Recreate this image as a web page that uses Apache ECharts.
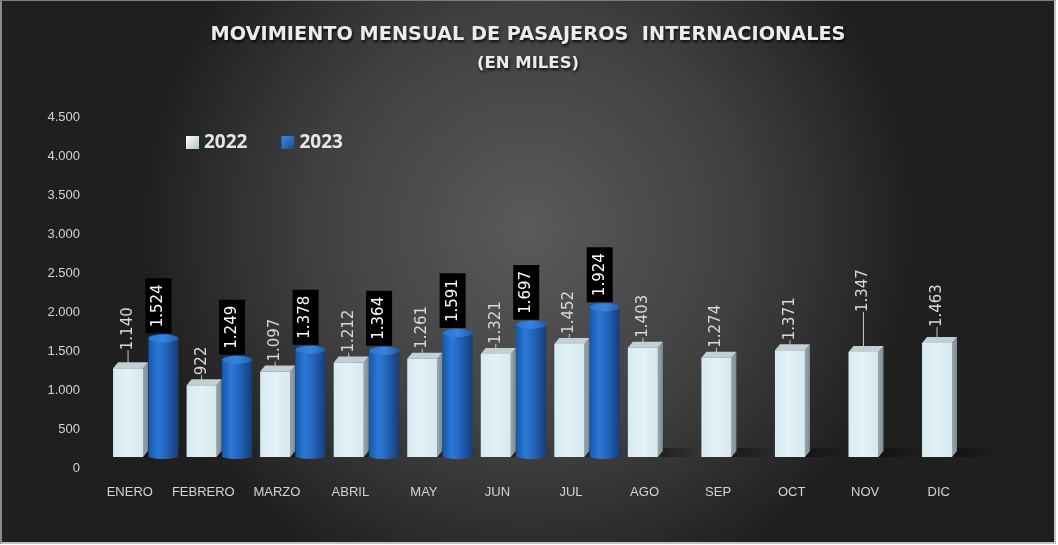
<!DOCTYPE html>
<html>
<head>
<meta charset="utf-8">
<script src="https://cdn.jsdelivr.net/npm/echarts@6/dist/echarts.min.js"></script>
<style>
  html, body { margin: 0; padding: 0; background: #ffffff; }
  #c { position: absolute; left: 0; top: 0; width: 1052px; height: 541px;
       border-top: 1px solid #7c7c7c; border-left: 2px solid #8a8a8a;
       border-right: 2px solid #c4c4c4; border-bottom: 2px solid #c4c4c4; }
</style>
</head>
<body>
<div id="c"></div>
<script>
// ---- data ----
const categories = ['ENERO','FEBRERO','MARZO','ABRIL','MAY','JUN','JUL','AGO','SEP','OCT','NOV','DIC'];
const values2022 = [1140, 922, 1097, 1212, 1261, 1321, 1452, 1403, 1274, 1371, 1347, 1463];
const values2023 = [1524, 1249, 1378, 1364, 1591, 1697, 1924, null, null, null, null, null];
const yMin = 0, yMax = 4500, yStep = 500;
const seriesNames = ['2022', '2023'];
const titleText = 'MOVIMIENTO MENSUAL DE PASAJEROS  INTERNACIONALES';
const subtitleText = '(EN MILES)';

// ---- style ----
const BAR_W = 30, BAR_GAP = 0.18;
const HALF_PAIR = (BAR_W + BAR_W * BAR_GAP) / 2;
const DEPTH_X = 5, DEPTH_Y = 6;
const labelShift = {0: 8, 10: 30, 11: 6};

function fmt(v) {
  return String(v).replace(/\B(?=(\d{3})+(?!\d))/g, '.');
}

const chart = echarts.init(document.getElementById('c'), null, {renderer: 'canvas'});

const grad2022 = new echarts.graphic.LinearGradient(0, 0, 1, 0, [
  {offset: 0, color: '#d8ebf2'}, {offset: 0.5, color: '#e2f1f6'}, {offset: 1, color: '#d5e8ef'}
]);
const grad2023 = new echarts.graphic.LinearGradient(0, 0, 1, 0, [
  {offset: 0, color: '#1a56a6'}, {offset: 0.3, color: '#2a78d6'}, {offset: 0.55, color: '#2468c2'},
  {offset: 1, color: '#143d7c'}
]);

const data2022 = values2022.map((v, i) => [i, v]);
const data2023 = values2023.map((v, i) => v == null ? [i, '-'] : [i, v]);

const titleShadow = {textShadowColor: 'rgba(0,0,0,0.85)', textShadowBlur: 3, textShadowOffsetX: 1, textShadowOffsetY: 2};

const option = {
  backgroundColor: new echarts.graphic.RadialGradient(0.5, 0.42, 0.72, [
    {offset: 0, color: '#5a5a5a'}, {offset: 0.55, color: '#404040'}, {offset: 1, color: '#1f1f1f'}
  ]),
  animation: false,
  title: [{
    text: titleText, left: 'center', top: 19,
    textStyle: Object.assign({color: '#ececec', fontFamily: 'DejaVu Sans', fontWeight: 'bold', fontSize: 19.3}, titleShadow)
  }, {
    text: subtitleText, left: 'center', top: 49,
    textStyle: Object.assign({color: '#ececec', fontFamily: 'DejaVu Sans', fontWeight: 'bold', fontSize: 16.5}, titleShadow)
  }],
  legend: {
    left: 179, top: 127, itemWidth: 13, itemHeight: 13, itemGap: 34,
    data: [
      {name: '2022', icon: 'rect', itemStyle: {color: new echarts.graphic.LinearGradient(0, 0, 1, 1, [
        {offset: 0, color: '#ffffff'}, {offset: 1, color: '#a9c4cf'}])}},
      {name: '2023', icon: 'rect', itemStyle: {color: new echarts.graphic.LinearGradient(0, 0, 1, 1, [
        {offset: 0, color: '#3c8ae6'}, {offset: 1, color: '#164a92'}])}}
    ],
    textStyle: {color: '#e6e6e6', fontFamily: 'Open Sans', fontWeight: 'bold', fontSize: 19}
  },
  grid: [
    {left: 107, right: 62.5, top: 116.5, bottom: 74},
    {left: 107, right: 62.5, top: 105.5, bottom: 85}
  ],
  xAxis: [
    {gridIndex: 0, type: 'category', data: categories, show: false},
    {gridIndex: 1, type: 'category', data: categories,
      axisLine: {show: false}, axisTick: {show: false},
      axisLabel: {color: '#d4d4d4', fontFamily: 'Liberation Sans', fontSize: 13, margin: 29,
        interval: 0, padding: [0, 32, 0, 0]}}
  ],
  yAxis: [
    {gridIndex: 0, type: 'value', min: yMin, max: yMax, interval: yStep,
      splitLine: {show: false}, axisLine: {show: false}, axisTick: {show: false},
      axisLabel: {color: '#d4d4d4', fontFamily: 'Liberation Sans', fontSize: 13, margin: 29,
        formatter: v => fmt(v)}},
    {gridIndex: 1, type: 'value', min: yMin, max: yMax, interval: yStep, show: false}
  ],
  series: [
    {
      name: seriesNames[0], type: 'bar', xAxisIndex: 1, yAxisIndex: 1, z: 3,
      barWidth: BAR_W, barGap: (BAR_GAP * 100) + '%',
      itemStyle: {color: grad2022},
      data: values2022,
      label: {show: true, position: 'top', rotate: 90, align: 'left', verticalAlign: 'middle',
        distance: 10, color: '#d8d8d8', fontFamily: 'DejaVu Sans', fontSize: 15,
        formatter: p => fmt(p.value)},
      labelLayout: p => (labelShift[p.dataIndex] ? {dx: labelShift[p.dataIndex]} : {}),
      labelLine: {show: true, lineStyle: {color: '#c8c8c8', width: 1}}
    },
    {
      name: seriesNames[1], type: 'bar', xAxisIndex: 1, yAxisIndex: 1, z: 3,
      barWidth: BAR_W, barGap: (BAR_GAP * 100) + '%',
      itemStyle: {color: grad2023},
      data: values2023.map(v => v == null ? '-' : v),
      label: {show: true, position: 'top', rotate: 90, align: 'left', verticalAlign: 'middle',
        distance: 5, color: '#ffffff', fontFamily: 'DejaVu Sans', fontSize: 15,
        backgroundColor: '#000000', padding: [6, 6, 5, 6],
        formatter: p => fmt(p.value)},
      labelLayout: {dy: -5}
    },
    {
      name: '2022-3d', type: 'custom', xAxisIndex: 1, yAxisIndex: 1, z: 2, silent: true,
      data: data2022,
      renderItem: function (params, api) {
        const top = api.coord([api.value(0), api.value(1)]);
        const base = api.coord([api.value(0), 0]);
        const cx = top[0] - HALF_PAIR;
        const x0 = cx - BAR_W / 2, x1 = cx + BAR_W / 2;
        const yt = top[1], yb = base[1];
        return {type: 'group', children: [
          {type: 'polygon', shape: {points: [[x1 + DEPTH_X, yb - 9], [x1 + 45, yb - 9], [x1 + 36, yb], [x1, yb]]},
            style: {fill: new echarts.graphic.LinearGradient(0, 0, 1, 0, [
              {offset: 0, color: 'rgba(0,0,0,0.45)'}, {offset: 1, color: 'rgba(0,0,0,0)'}])}},
          {type: 'polygon', shape: {points: [[x1, yt], [x1 + DEPTH_X, yt - DEPTH_Y], [x1 + DEPTH_X, yb - DEPTH_Y], [x1, yb]]},
            style: {fill: new echarts.graphic.LinearGradient(0, 0, 1, 0, [
              {offset: 0, color: '#97a7ad'}, {offset: 1, color: '#7e8c92'}])}},
          {type: 'polygon', shape: {points: [[x0, yt], [x0 + DEPTH_X, yt - DEPTH_Y], [x1 + DEPTH_X, yt - DEPTH_Y], [x1, yt]]},
            style: {fill: '#c2d0d5'}}
        ]};
      }
    },
    {
      name: '2023-3d', type: 'custom', xAxisIndex: 1, yAxisIndex: 1, z: 4, silent: true,
      data: data2023,
      renderItem: function (params, api) {
        const v = api.value(1);
        if (v == null || isNaN(v)) return null;
        const top = api.coord([api.value(0), v]);
        const base = api.coord([api.value(0), 0]);
        const cx = top[0] + HALF_PAIR;
        return {type: 'group', children: [
          {type: 'ellipse', shape: {cx: cx, cy: base[1] - 1, rx: BAR_W / 2, ry: 3},
            style: {fill: grad2023}},
          {type: 'ellipse', shape: {cx: cx, cy: top[1], rx: BAR_W / 2, ry: 4},
            style: {fill: new echarts.graphic.LinearGradient(0, 0, 1, 0, [
              {offset: 0, color: '#2a73cc'}, {offset: 0.5, color: '#3585e0'}, {offset: 1, color: '#1f5db0'}])}}
        ]};
      }
    }
  ]
};
chart.setOption(option);
</script>
</body>
</html>
